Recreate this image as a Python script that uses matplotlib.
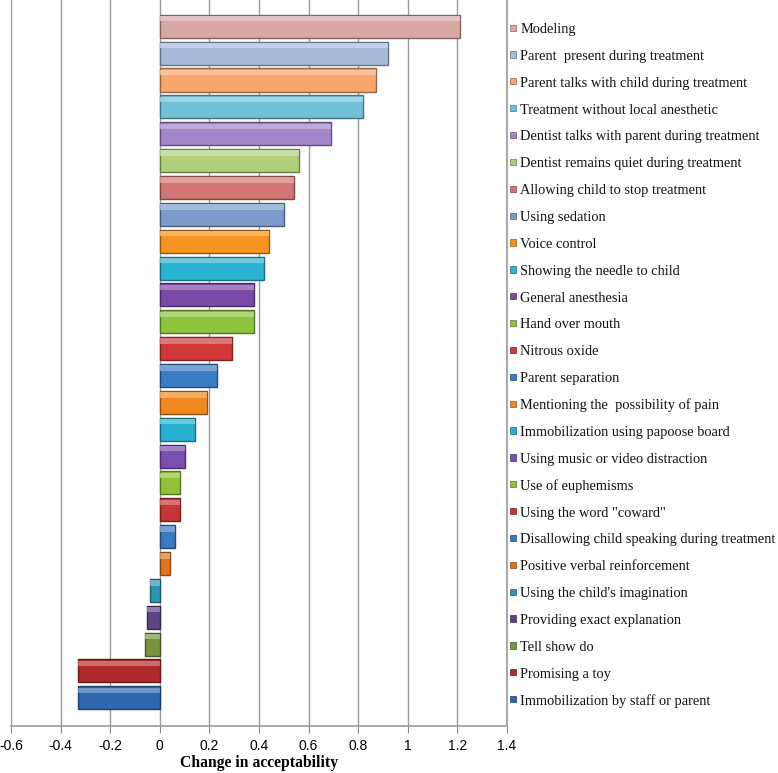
import matplotlib.pyplot as plt
import matplotlib.colors as mcolors
import matplotlib.transforms as mtransforms

# categories listed bottom -> top
techniques = [
    "Immobilization by staff or parent",
    "Promising a toy",
    "Tell show do",
    "Providing exact explanation",
    "Using the child's imagination",
    "Positive verbal reinforcement",
    "Disallowing child speaking during treatment",
    'Using the word "coward"',
    "Use of euphemisms",
    "Using music or video distraction",
    "Immobilization using papoose board",
    "Mentioning the  possibility of pain",
    "Parent separation",
    "Nitrous oxide",
    "Hand over mouth",
    "General anesthesia",
    "Showing the needle to child",
    "Voice control",
    "Using sedation",
    "Allowing child to stop treatment",
    "Dentist remains quiet during treatment",
    "Dentist talks with parent during treatment",
    "Treatment without local anesthetic",
    "Parent talks with child during treatment",
    "Parent  present during treatment",
    "Modeling",
]
change = [-0.33, -0.33, -0.06, -0.05, -0.04, 0.04, 0.06, 0.08, 0.08, 0.10,
          0.14, 0.19, 0.23, 0.29, 0.38, 0.38, 0.42, 0.44, 0.50, 0.54,
          0.56, 0.69, 0.82, 0.87, 0.92, 1.21]
bar_colors = [
    "#2F67AE", "#B02A2A", "#77933C", "#5E4384", "#2C96B2", "#E0741C",
    "#3A78C0", "#C93434", "#92C13A", "#7A4FAE", "#28B0D0", "#F2891E",
    "#3B7CC4", "#CF3838", "#8EC43C", "#7A4AA6", "#2AB3D3", "#F7931E",
    "#7B9BCB", "#D27573", "#B0CF7A", "#A286C9", "#72C1D8", "#F9A66C",
    "#A9BBDC", "#D9A8A5",
]
xticks = [-0.6, -0.4, -0.2, 0, 0.2, 0.4, 0.6, 0.8, 1, 1.2, 1.4]
xtick_labels = ["-0.6", "-0.4", "-0.2", "0", "0.2", "0.4", "0.6", "0.8", "1", "1.2", "1.4"]

W, H = 778, 773
fig = plt.figure(figsize=(W / 100, H / 100), dpi=100)
ax = fig.add_axes([11 / W, 47 / H, 496 / W, 1 - 47 / H])

ypos = list(range(len(techniques)))
edge = [mcolors.to_rgb(c) for c in bar_colors]
edge = [tuple(v * 0.6 for v in c) for c in edge]
light = [tuple(v + (1 - v) * 0.45 for v in mcolors.to_rgb(c)) for c in bar_colors]

ax.barh(ypos, change, height=0.86, color=bar_colors, edgecolor=edge,
        linewidth=1.0, zorder=3)
# bevel highlight along top of each bar
ax.barh([y + 0.28 for y in ypos], change, height=0.2, color=light,
        linewidth=0, alpha=0.7, zorder=4)

ax.set_xlim(-0.6, 1.4)
ax.set_ylim(-1.05, 25.98)
ax.set_xticks(xticks)
ax.set_xticklabels(xtick_labels, family="Liberation Sans", fontsize=10)
ax.set_yticks([])
ax.tick_params(axis="x", direction="out", length=5, color="#888888", pad=4)
ax.grid(axis="x", color="#999999", linewidth=1.0, zorder=0)
for s in ["top", "left"]:
    ax.spines[s].set_visible(False)
for s in ["bottom", "right"]:
    ax.spines[s].set_color("#999999")
    ax.spines[s].set_linewidth(1.2)

ax.set_xlabel("Change in acceptability", family="Liberation Serif",
              fontweight="bold", fontsize=11.3, labelpad=2)

# legend entries aligned with bars
trans = mtransforms.blended_transform_factory(ax.transAxes, ax.transData)
ax.scatter([1.0115] * len(ypos), [y - 0.05 for y in ypos], s=20, marker="s",
           c=bar_colors, edgecolors=edge, linewidths=0.5, transform=trans,
           clip_on=False, zorder=5)
for y, name in zip(ypos, techniques):
    ax.text(1.0265, y - 0.12, name, transform=trans, family="Liberation Serif",
            fontsize=10.4, va="center", ha="left", color="#111111")

fig.savefig("out.png", dpi=100)
